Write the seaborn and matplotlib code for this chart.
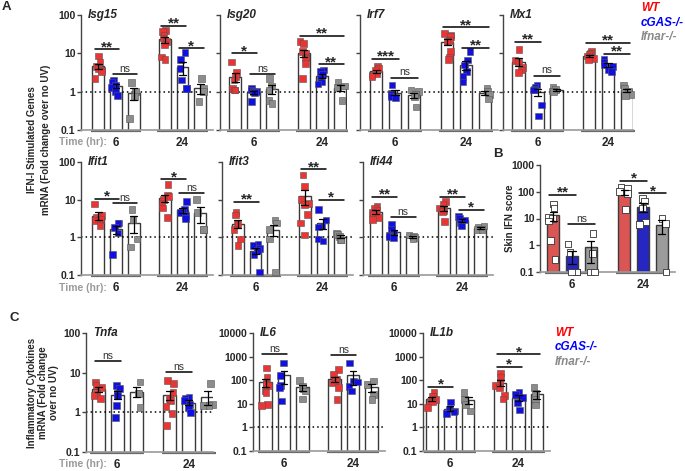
import matplotlib
matplotlib.use('Agg')
import matplotlib.pyplot as plt
import matplotlib.transforms as mtransforms
from matplotlib.ticker import NullLocator
import numpy as np
import pandas as pd
import seaborn as sns

TIMES = ['6', '24']
GENOS = ['WT', 'cGAS-/-', 'Ifnar-/-']

# fold change values per time point: [WT, cGAS-/-, Ifnar-/-]
ISG15 = {'6': [[8.5, 6, 4.5, 4, 3.7, 3.3, 2.2], [2.0, 1.8, 1.5, 1.3, 1.0, 0.8], [1.7, 1.0, 0.75, 0.2]],
         '24': [[40, 37, 30, 25, 20, 17, 8, 7], [10.4, 7, 4.1, 2.0, 1.2, 1.2], [2.2, 1.2, 1.0, 0.55]]}
ISG20 = {'6': [[6, 3.2, 2.5, 2.0, 1.2, 1.1, 1.1], [1.2, 1.1, 1.0, 1.0, 0.95, 0.55], [2.2, 1.4, 1.1, 0.6, 0.5]],
         '24': [[20, 18, 11, 10, 8, 7.5, 5.5, 2.2], [3.7, 3.3, 2.8, 2.2, 1.8, 1.6], [1.8, 1.4, 1.3, 0.6]]}
IRF7 = {'6': [[4.5, 4.0, 3.5, 3.0, 2.7, 2.5], [1.5, 0.9, 0.85, 0.75, 0.7], [1.1, 1.0, 0.85, 0.75, 0.4]],
        '24': [[33, 30, 27, 22, 20, 11, 8, 7], [11, 6.7, 5, 3.3, 2.5, 1.8], [1.2, 1.05, 0.85, 0.65]]}
MX1 = {'6': [[12.5, 6.5, 6, 4.2, 3.7, 3.2], [1.5, 1.3, 1.15, 1.1, 0.45, 0.23], [1.3, 1.15, 1.05, 1.0]],
       '24': [[11, 10, 9.5, 8.5, 8, 7.4, 6.7], [7, 6, 5, 4.5, 3.7, 3.3], [1.5, 1.2, 1.05, 0.85, 0.8]]}
IFIT1 = {'6': [[7.7, 3.8, 3.3, 3.0, 2.8, 2.1], [2.4, 2.3, 1.8, 1.3, 0.35], [5.5, 2.9, 0.9, 0.55]],
         '24': [[25, 13, 12, 10, 8, 6, 3.4], [9, 5.5, 5, 4.5, 3.8, 3.2], [10, 4.5, 1.6, 1.6]]}
IFIT3 = {'6': [[4.5, 3.9, 2.3, 2.2, 1.6, 0.9, 0.6], [0.65, 0.6, 0.5, 0.45, 0.35, 0.12], [2.9, 2.4, 1.6, 0.9, 0.12]],
         '24': [[45, 22, 10, 8, 7.5, 4, 2.4, 1.15], [5.5, 2.9, 2.0, 1.9, 0.9, 0.8], [1.3, 1.2, 1.05, 0.85, 0.85]]}
IFI44 = {'6': [[6.8, 6, 5.2, 4.5, 4.0, 3.3, 3.0], [2.2, 1.6, 1.3, 1.1, 1.05, 1.0], [1.15, 1.05, 1.0, 0.9]],
         '24': [[9, 7.5, 6, 5.2, 4.8, 2.6], [3.6, 3.2, 2.9, 2.4, 2.0], [2.0, 1.8, 1.6, 1.6]]}
SKIN = {'6': [[35, 25, 11, 10, 8, 1.5, 0.3], [1.1, 0.55, 0.1, 0.1, 0.1], [2.7, 0.5, 0.1, 0.1]],
        '24': [[150, 130, 100, 85, 22], [55, 45, 25, 7.5, 6], [10, 6.5, 0.1]]}
TNFA = {'6': [[5.8, 4.8, 4.2, 3.0, 2.7, 2.2], [4.8, 4, 3, 2.7, 1.5, 0.75], [5.8, 3.1, 3.0, 1.3]],
        '24': [[6.3, 5.3, 3.2, 2.2, 2.0, 1.4, 0.95, 0.47], [2.4, 2.3, 2.0, 1.6, 1.3, 1.0], [5.3, 1.6, 1.5, 1.5]]}
IL6 = {'6': [[330, 130, 75, 65, 60, 35, 30, 9.4, 8.5], [530, 160, 60, 48, 13], [98, 54, 44, 35, 16]],
       '24': [[285, 175, 110, 100, 95, 75, 48, 15], [530, 92, 83, 54, 35], [92, 66, 25, 15]]}
IL1B = {'6': [[30, 20, 15, 13, 12, 7], [12, 6, 5, 4.5, 4], [30, 15, 9.5, 5]],
        '24': [[200, 130, 80, 60, 50, 23, 16], [31, 25, 19, 11, 5.5], [48, 28, 15, 9]]}

# significance bars: (time, group a, group b, height, label)
ISG15_SIG = [('6', 0, 1, 12.7, '**'), ('6', 1, 2, 2.9, 'ns'), ('24', 0, 1, 52, '**'), ('24', 1, 2, 13.5, '*')]
ISG20_SIG = [('6', 0, 1, 10, '*'), ('6', 1, 2, 2.9, 'ns'), ('24', 0, 2, 29, '**'), ('24', 1, 2, 5.2, '**')]
IRF7_SIG = [('6', 0, 1, 7.1, '***'), ('6', 1, 2, 2.3, 'ns'), ('24', 0, 2, 48, '**'), ('24', 1, 2, 14, '**')]
MX1_SIG = [('6', 0, 1, 20, '**'), ('6', 1, 2, 2.6, 'ns'), ('24', 0, 2, 19, '**'), ('24', 1, 2, 9.6, '**')]
IFIT1_SIG = [('6', 0, 1, 10.4, '*'), ('6', 1, 2, 8, 'ns'), ('24', 0, 1, 35, '*'), ('24', 1, 2, 14.7, 'ns')]
IFIT3_SIG = [('6', 0, 1, 8.8, '**'), ('24', 0, 1, 64, '**'), ('24', 1, 2, 9.8, '*')]
IFI44_SIG = [('6', 0, 1, 12, '**'), ('6', 1, 2, 3.4, 'ns'), ('24', 0, 1, 12, '**'), ('24', 1, 2, 5.3, '*')]
SKIN_SIG = [('6', 0, 1, 75, '**'), ('6', 1, 2, 6.1, 'ns'), ('24', 0, 1, 250, '*'), ('24', 1, 2, 87, '*')]
TNFA_SIG = [('6', 0, 1, 19.6, 'ns'), ('24', 0, 1, 10.4, 'ns')]
IL6_SIG = [('6', 0, 1, 1240, 'ns'), ('24', 0, 1, 1120, 'ns')]
IL1B_SIG = [('6', 0, 1, 51, '*'), ('24', 0, 2, 1240, '*'), ('24', 0, 1, 360, '*')]

DOT_COLORS = {'WT': '#ee3333', 'cGAS-/-': '#1010e6', 'Ifnar-/-': '#8c8c8c'}
BAR_COLORS = {'WT': '#f23f3f', 'cGAS-/-': '#0c0cdc', 'Ifnar-/-': '#9b9b9b'}
WHITE = {g: 'white' for g in GENOS}
LEGEND_COLORS = ['#ff0000', '#0000ff', '#8a8a8a']
OFF = [-0.267, 0, 0.267]

W, H = 685, 471

sns.set_style('ticks')
plt.rcParams['font.family'] = ['Liberation Sans', 'DejaVu Sans']
np.random.seed(3)

fig = plt.figure(figsize=(W / 100, H / 100), dpi=100)


def to_frame(d):
    rows = []
    for t in TIMES:
        for g, vals in zip(GENOS, d[t]):
            rows += [(t, g, v) for v in vals]
    return pd.DataFrame(rows, columns=['time', 'geno', 'val'])


def px_axes(l, t, r, b):
    return fig.add_axes([l / W, 1 - b / H, (r - l) / W, (b - t) / H])


def panel(box, c6, c24, d, sig, name, ticks, show_labels, filled=False):
    l, t, r, b = box
    ax = px_axes(l, t, r, b)
    df = to_frame(d)
    sns.barplot(data=df, x='time', y='val', hue='geno', order=TIMES, hue_order=GENOS,
                palette=BAR_COLORS if filled else WHITE, errorbar='se', capsize=0.3,
                width=0.8, gap=0.33, edgecolor='#3a3a3a', linewidth=1.0,
                err_kws={'color': 'k', 'linewidth': 0.9, 'zorder': 4}, legend=False, ax=ax)
    ax.set_yscale('log')
    sns.stripplot(data=df, x='time', y='val', hue='geno', order=TIMES, hue_order=GENOS,
                  palette=WHITE if filled else DOT_COLORS, dodge=True, jitter=0.2, marker='s', size=4.8,
                  edgecolor='#333333' if filled else '#555555', linewidth=0.6 if filled else 0.4,
                  legend=False, zorder=3, clip_on=False, ax=ax)
    unit = c24 - c6
    ax.set_xlim((l - c6) / unit, (r - c6) / unit)
    ax.set_ylim(ticks[0], ticks[-1])
    ax.set_xlabel('')
    ax.set_ylabel('')

    labels = [f'{v:g}' for v in ticks] if show_labels else [''] * len(ticks)
    ax.set_yticks(ticks, labels, fontsize=7.5, fontweight='bold')
    ax.yaxis.set_minor_locator(NullLocator())
    ax.set_xticks([0, 1], TIMES, fontsize=8.5, fontweight='bold')
    ax.tick_params(axis='x', length=0, pad=5)
    ax.tick_params(axis='y', length=3, width=1, pad=1, color='#444444')

    sns.despine(ax=ax)
    ax.spines['left'].set_color('#444444')
    ax.spines['left'].set_linewidth(1.0)
    ax.spines['bottom'].set_color('#9a9a9a')
    ax.spines['bottom'].set_linewidth(1.2)

    trans = mtransforms.blended_transform_factory(ax.transData, ax.transAxes)
    for i in range(len(TIMES)):
        ax.plot([i - 0.38, i + 0.38], [-0.012, -0.012], transform=trans, color='#6a6a6a',
                lw=1.6, clip_on=False, solid_capstyle='butt')

    if not filled:
        ax.axhline(1, color='k', ls=(0, (1, 2)), lw=1.1, zorder=1.5)

    for tm, g1, g2, y, lab in sig:
        i = TIMES.index(tm)
        x0, x1 = i + OFF[g1] - 0.05, i + OFF[g2] + 0.05
        ax.plot([x0, x1], [y, y], color='k', lw=1.1, zorder=5, clip_on=False)
        if lab == 'ns':
            ax.annotate('ns', ((x0 + x1) / 2, y), xytext=(0, 0.3), textcoords='offset points',
                        ha='center', va='bottom', fontsize=7.5, color='#333333')
        else:
            ax.annotate(lab, ((x0 + x1) / 2, y), xytext=(0, -3.5), textcoords='offset points',
                        ha='center', va='bottom', fontsize=11, fontweight='bold')

    if name:
        ax.annotate(name, xy=(0, 1), xycoords='axes fraction', xytext=(5, 0),
                    textcoords='offset points', ha='left', va='center', fontsize=8.5,
                    fontweight='bold', fontstyle='italic')
    return ax


T4 = [0.1, 1, 10, 100]
T5 = [0.1, 1, 10, 100, 1000]
T6 = [0.1, 1, 10, 100, 1000, 10000]

panel((81, 15, 213, 130), 116, 182.5, ISG15, ISG15_SIG, 'Isg15', T4, True)
panel((220, 15, 347, 130), 253.5, 322, ISG20, ISG20_SIG, 'Isg20', T4, False)
panel((360, 15, 498, 130), 395, 466, IRF7, IRF7_SIG, 'Irf7', T4, False)
panel((503, 15, 633, 130), 537.5, 608, MX1, MX1_SIG, 'Mx1', T4, False)
panel((81, 162, 213, 275), 116, 182.5, IFIT1, IFIT1_SIG, 'Ifit1', T4, True)
panel((222, 162, 353, 275), 255.5, 322.5, IFIT3, IFIT3_SIG, 'Ifit3', T4, False)
panel((363, 162, 493, 275), 394, 462, IFI44, IFI44_SIG, 'Ifi44', T4, False)
panel((540, 165, 675, 272), 572, 643, SKIN, SKIN_SIG, '', T5, True, filled=True)
panel((86, 333, 213, 452), 117.3, 188.7, TNFA, TNFA_SIG, 'Tnfa', T4, True)
panel((253, 333, 385, 451), 284, 353, IL6, IL6_SIG, 'IL6', T6, True)
panel((423, 333, 550, 451), 450, 518.5, IL1B, IL1B_SIG, 'IL1b', T6, True)


def ftext(x, y, s, **kw):
    fig.text(x / W, 1 - y / H, s, **kw)


ftext(2, 7, 'A', fontsize=9.5, fontweight='bold', va='center')
ftext(493, 154, 'B', fontsize=9.5, fontweight='bold', va='center')
ftext(10, 318, 'C', fontsize=9.5, fontweight='bold', va='center')

for y in (142, 288, 464):
    ftext(107, y, 'Time (hr):', fontsize=7.5, fontweight='bold', color='#9a9a9a', ha='right', va='center')

ftext(39, 140, 'IFN-I Stimulated Genes\nmRNA (Fold change over no UV)', rotation=90,
      fontsize=7, fontweight='bold', ha='center', va='center', multialignment='center', linespacing=1.4)
ftext(43, 393, 'Inflammatory Cytokines\nmRNA (Fold change\nover no UV)', rotation=90,
      fontsize=7, fontweight='bold', ha='center', va='center', multialignment='center', linespacing=1.15)
ftext(510, 218, 'Skin IFN score', rotation=90, fontsize=7, fontweight='bold', ha='center', va='center')

for (x0, y0) in ((641, 8), (555, 333)):
    for k, (g, c) in enumerate(zip(GENOS, LEGEND_COLORS)):
        ftext(x0, y0 + k * 14.5, g, fontsize=8.5, fontweight='bold', fontstyle='italic',
              color=c, ha='left', va='center')

fig.savefig('out.png', dpi=100, facecolor='white')
